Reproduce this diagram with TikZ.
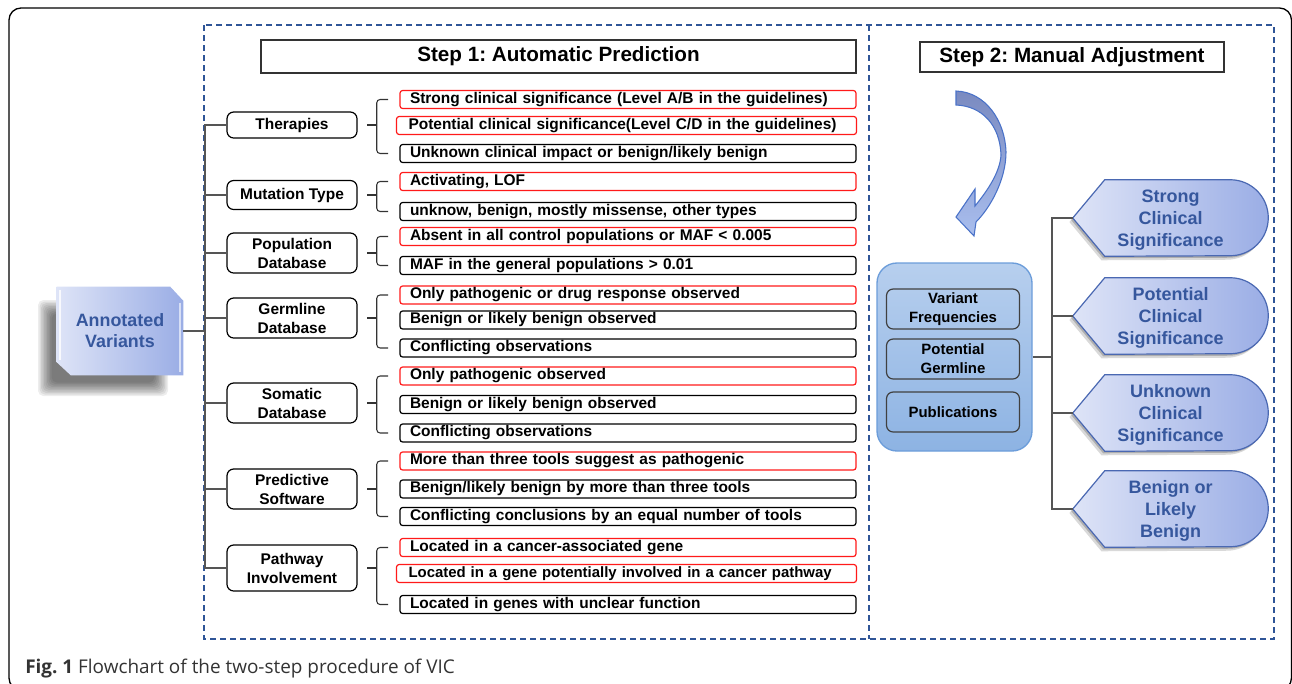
\documentclass[tikz,border=0pt]{standalone}
\usepackage{fontspec}
\setmainfont{Liberation Sans}
\newfontfamily\capfont{Open Sans}
\usetikzlibrary{calc,backgrounds}
\frenchspacing

\definecolor{dashblue}{HTML}{2F5597}
\definecolor{darkblue}{HTML}{36579D}
\definecolor{optred}{HTML}{FF1A1A}
\definecolor{lightlav}{HTML}{DEE4F7}
\definecolor{periwinkle}{HTML}{9AADE5}
\definecolor{edgeblue}{HTML}{4A68B2}
\definecolor{panellight}{HTML}{B7CFEE}
\definecolor{paneldark}{HTML}{8DB3E3}
\definecolor{paneledge}{HTML}{6C9DDA}
\definecolor{arrowtop}{HTML}{7A8AC0}
\definecolor{arrowbot}{HTML}{A9BEEE}
\definecolor{arrowedge}{HTML}{4A72C8}
\definecolor{linegray}{HTML}{555555}
\definecolor{capgray}{HTML}{333333}

% brace in front of a group of criteria: first box, last box, category
\newcommand{\grpbrace}[3]{%
	\draw[brc] ([xshift=-8.5pt]#1.west) -- ([xshift=-17pt]#1.west) -- ([xshift=-17pt]#2.west) -- ([xshift=-8.5pt]#2.west);
	\draw[brc] ([xshift=-17pt]#1.west |- #3.east) -- ([xshift=-24.5pt]#1.west |- #3.east);}
% outline of a result tag, pointed left and round on the right
\newcommand{\tagpath}[1]{(#1.west) -- ($(#1.north west)+(32,0)$) -- ($(#1.north east)+(-38,0)$) arc[start angle=90, end angle=-90, radius=28.5pt] -- ($(#1.south west)+(32,0)$) -- cycle}

\begin{document}
\begin{tikzpicture}[x=0.75pt, y=-0.75pt, font=\bfseries\fontsize{11.6}{14}\selectfont,
	opt/.style={draw, line width=0.9pt, rounded corners=2pt, minimum height=13.5pt, inner ysep=0pt, inner xsep=7.5pt, text width=327pt, align=left},
	red opt/.style={opt, draw=optred},
	cat/.style={draw, line width=0.9pt, rounded corners=5pt, minimum width=97.5pt, inner ysep=1pt, align=center, font=\bfseries\fontsize{11.6}{14.25}\selectfont},
	conn/.style={draw=linegray, line width=0.9pt},
	brc/.style={draw=black!80, line width=0.8pt, rounded corners=2.5pt},
	stepbox/.style={draw=black!80, line width=1.1pt, inner sep=0pt, font=\bfseries\fontsize{15.5}{18}\selectfont},
	stepframe/.style={draw=dashblue, line width=1.1pt, dash pattern=on 4.5pt off 3pt},
	src/.style={draw=black!75, line width=0.9pt, rounded corners=5pt, minimum width=99.75pt, minimum height=30pt, inner sep=0pt, align=center, font=\bfseries\fontsize{11.2}{14.25}\selectfont},
	outcome/.style={minimum width=146.25pt, minimum height=57pt, inner sep=0pt, text depth=0pt, align=center, text=darkblue, font=\bfseries\fontsize{13.5}{16.5}\selectfont}]
	\path[use as bounding box] (0,0) rectangle (1292,683);
	\clip (0,0) rectangle (1292,683);
	\draw[line width=1pt, rounded corners=9pt] (9,8) rectangle (1291.5,690);
	\draw[stepframe] (204,25) rectangle (1274,639);
	\draw[stepframe] (869,25) -- (869,639);

	\node[stepbox, minimum width=446.25pt, minimum height=24.75pt] (step1) at (558.5,56.5) {Step 1: Automatic Prediction};
	\node[stepbox, minimum width=228pt, minimum height=22.5pt] (step2) at (1072,57) {Step 2: Manual Adjustment};

	\node[text=darkblue, font=\bfseries\fontsize{13.4}{15.75}\selectfont, align=center, minimum width=94.5pt, minimum height=66pt, inner sep=0pt] (av) at (120,331) {Annotated\\Variants};

	\node[cat, minimum height=19.5pt] (ther) at (292,125) {Therapies};
	\node[cat, minimum height=21.75pt] (mut) at (292,195) {Mutation Type};
	\node[cat, minimum height=30pt] (pop) at (292,253) {Population\\Database};
	\node[cat, minimum height=30pt] (germ) at (292,318) {Germline\\Database};
	\node[cat, minimum height=30pt] (som) at (292,403) {Somatic\\Database};
	\node[cat, minimum height=30pt] (pred) at (292,489) {Predictive\\Software};
	\node[cat, minimum height=34.5pt] (pathw) at (292,568) {Pathway\\Involvement};

	\node[red opt] (ther1) at (628,99.5) {Strong clinical significance (Level A/B in the guidelines)};
	\node[red opt, minimum width=345pt, inner xsep=9pt] (ther2) at (626.5,125.5) {Potential clinical significance(Level C/D in the guidelines)};
	\node[opt] (ther3) at (628,153.5) {Unknown clinical impact or benign/likely benign};
	\node[red opt] (mut1) at (628,181.5) {Activating, LOF};
	\node[opt] (mut2) at (628,211.5) {unknow, benign, mostly missense, other types};
	\node[red opt] (pop1) at (628,236.5) {Absent in all control populations or MAF < 0.005};
	\node[opt] (pop2) at (628,265.5) {MAF in the general populations > 0.01};
	\node[red opt] (germ1) at (628,295) {Only pathogenic or drug response observed};
	\node[opt] (germ2) at (628,320) {Benign or likely benign observed};
	\node[opt] (germ3) at (628,348) {Conflicting observations};
	\node[red opt] (som1) at (628,376) {Only pathogenic observed};
	\node[opt] (som2) at (628,404.5) {Benign or likely benign observed};
	\node[opt] (som3) at (628,433) {Conflicting observations};
	\node[red opt] (pred1) at (628,461) {More than three tools suggest as pathogenic};
	\node[opt] (pred2) at (628,489) {Benign/likely benign by more than three tools};
	\node[opt] (pred3) at (628,516.5) {Conflicting conclusions by an equal number of tools};
	\node[red opt] (pathw1) at (628,547.5) {Located in a cancer-associated gene};
	\node[red opt, minimum width=345pt, font=\bfseries\fontsize{11.2}{14}\selectfont] (pathw2) at (626.5,573.5) {\mbox{Located in a gene potentially involved in a cancer pathway}};
	\node[opt] (pathw3) at (628,604.5) {Located in genes with unclear function};

	\grpbrace{ther1}{ther3}{ther}
	\grpbrace{mut1}{mut2}{mut}
	\grpbrace{pop1}{pop2}{pop}
	\grpbrace{germ1}{germ3}{germ}
	\grpbrace{som1}{som3}{som}
	\grpbrace{pred1}{pred3}{pred}
	\grpbrace{pathw1}{pathw3}{pathw}

	\coordinate (spine) at (205,0);
	\draw[conn] (av.east) -- (av.east -| spine);
	\draw[conn] (ther.west) -- (ther.west -| spine) -- (pathw.west -| spine) -- (pathw.west);
	\foreach \c in {mut,pop,germ,som,pred}
		\draw[conn] (\c.west) -- (\c.west -| spine);

	% step 2
	\draw[draw=arrowedge, line width=0.8pt, top color=arrowtop, bottom color=arrowbot] (956,91) .. controls (985,92) and (1005,120) .. (1006,152) .. controls (1006,180) and (990,208) .. (976,222) -- (974,236) -- (956,217) -- (975,189) -- (975,206) .. controls (988,190) and (1000,172) .. (1001,155) .. controls (1000,125) and (982,106) .. (956,105) -- cycle;

	\node[draw=paneledge, line width=1pt, rounded corners=15pt, top color=panellight, bottom color=paneldark, minimum width=116.25pt, minimum height=141pt] (panel) at (954.5,357) {};
	\node[src] (freq) at (953,309) {Variant\\Frequencies};
	\node[src] (germl) at (953,359) {Potential\\Germline};
	\node[src] (pubs) at (953,412) {Publications};

	\node[outcome] (strong) at (1170.5,218) {Strong\\Clinical\\Significance};
	\node[outcome] (potential) at (1170.5,316) {Potential\\Clinical\\Significance};
	\node[outcome] (unknown) at (1170.5,413) {Unknown\\Clinical\\Significance};
	\node[outcome] (benign) at (1170.5,509) {Benign or\\Likely\\Benign};

	\coordinate (spine2) at (1052,0);
	\draw[conn] (panel.east) -- (panel.east -| spine2);
	\draw[conn] (strong.west) -- (strong.west -| spine2) -- (benign.west -| spine2) -- (benign.west);
	\draw[conn] (potential.west) -- (potential.west -| spine2);
	\draw[conn] (unknown.west) -- (unknown.west -| spine2);

	\begin{scope}[on background layer]
		\foreach \i in {0,...,9}
			\fill[black, opacity=0.07, rounded corners=4pt] (38+1.5*\i,300+1.5*\i) rectangle (168-1.5*\i,396-1.5*\i);
		\shade[left color=lightlav, right color=periwinkle] (av.north west) -- ($(av.north east)+(-13,0)$) -- ($(av.north east)+(0,14)$) -- (av.south east) -- ($(av.south west)+(14,0)$) -- ($(av.south west)+(0,-13)$) -- cycle;
		\draw[white, opacity=.8, line width=1.5pt] ($(av.north west)+(3,3)$) -- ($(av.south west)+(3,-15)$);
		\draw[white, opacity=.6, line width=1.2pt] ($(av.north east)+(-3,16)$) -- ($(av.south east)+(-3,-3)$);
		\foreach \o in {strong,potential,unknown,benign} {
			\fill[black, opacity=.15, transform canvas={shift={(-2.5pt,-3pt)}}] \tagpath{\o};
			\fill[black, opacity=.2, transform canvas={shift={(-1.2pt,-1.5pt)}}] \tagpath{\o};
			\draw[draw=edgeblue, line width=0.9pt, left color=lightlav, right color=periwinkle] \tagpath{\o};
		}
	\end{scope}

	\node[anchor=base west, inner sep=0pt, text=capgray, font=\capfont\mdseries\fontsize{14.2}{16}\selectfont] (caption) at (25,673) {\textbf{Fig. 1} Flowchart of the two-step procedure of VIC};
\end{tikzpicture}
\end{document}
